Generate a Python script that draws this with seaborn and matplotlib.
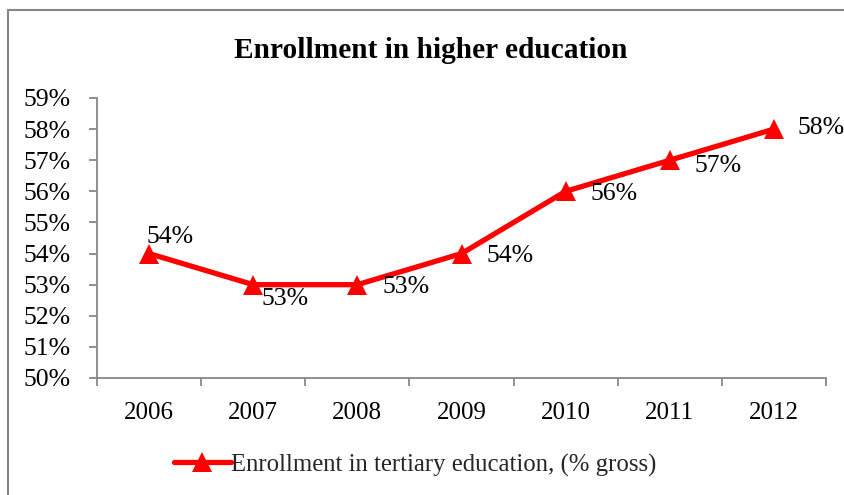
import matplotlib
matplotlib.use("Agg")
import matplotlib.pyplot as plt
import seaborn as sns
import pandas as pd
from matplotlib.patches import Rectangle
from matplotlib.ticker import FixedLocator

years = [2006, 2007, 2008, 2009, 2010, 2011, 2012]
enrollment = [54, 53, 53, 54, 56, 57, 58]
series_name = "Enrollment in tertiary education, (% gross)"
title = "Enrollment in higher education"
y_ticks = list(range(50, 60))

# label placement (offset in points) for each data label
label_offsets = [(-2, 12), (6, -10), (18, -2), (18, -2), (18, -2), (18, -4), (17, 1)]

sns.set_theme(style="white")
plt.rcParams["font.family"] = ["Liberation Serif", "DejaVu Serif"]

df = pd.DataFrame({"year": years, "value": enrollment, "series": series_name})

fig = plt.figure(figsize=(8.45, 4.95), dpi=100)
ax = fig.add_axes([97 / 845, 1 - 378 / 495, (826 - 97) / 845, (378 - 98) / 495])

sns.lineplot(data=df, x="year", y="value", hue="series", palette=["#FF0000"],
             marker="^", markersize=14, markeredgewidth=0, linewidth=3.8, ax=ax)

ax.set_xlim(years[0] - 0.5, years[-1] + 0.5)
ax.set_ylim(y_ticks[0], y_ticks[-1])
ax.set_yticks(y_ticks)
ax.set_yticklabels([f"{v}%" for v in y_ticks])
ax.set_xticks(years)
ax.set_xticklabels([str(y) for y in years])
ax.xaxis.set_minor_locator(FixedLocator([y - 0.5 for y in years] + [years[-1] + 0.5]))

axis_color = "#878787"
for side in ["top", "right"]:
    ax.spines[side].set_visible(False)
for side in ["left", "bottom"]:
    ax.spines[side].set_color(axis_color)
    ax.spines[side].set_linewidth(1.3)

ax.tick_params(axis="x", which="major", length=0, pad=17, labelsize=18, labelcolor="black")
ax.tick_params(axis="x", which="minor", length=6, width=1.3, color=axis_color, direction="out", bottom=True)
ax.tick_params(axis="y", which="major", length=6, width=1.3, color=axis_color, direction="out",
               left=True, pad=13, labelsize=18.5, labelcolor="black")
ax.set_xlabel("")
ax.set_ylabel("")

for x, v, off in zip(years, enrollment, label_offsets):
    ax.annotate(f"{v}%", (x, v), xytext=off, textcoords="offset points",
                ha="left", va="center", fontsize=18.5, color="black")

ax.legend_.remove()
handles, labels = ax.get_legend_handles_labels()
fig.legend(handles, labels, loc="center", bbox_to_anchor=(415 / 845, 1 - 465 / 495),
           frameon=False, fontsize=17.8, handlelength=2.3, handletextpad=0.0,
           borderaxespad=0)

fig.text(431 / 845, 1 - 50 / 495, title, ha="center", va="center",
         fontsize=21.2, fontweight="bold", color="black")

# outer chart frame
fig.patches.append(Rectangle((8 / 845, -0.1), 1.2, 1 - 10 / 495 + 0.1,
                             transform=fig.transFigure, fill=False,
                             edgecolor=axis_color, linewidth=1.5))

fig.savefig("out.png", dpi=100)
